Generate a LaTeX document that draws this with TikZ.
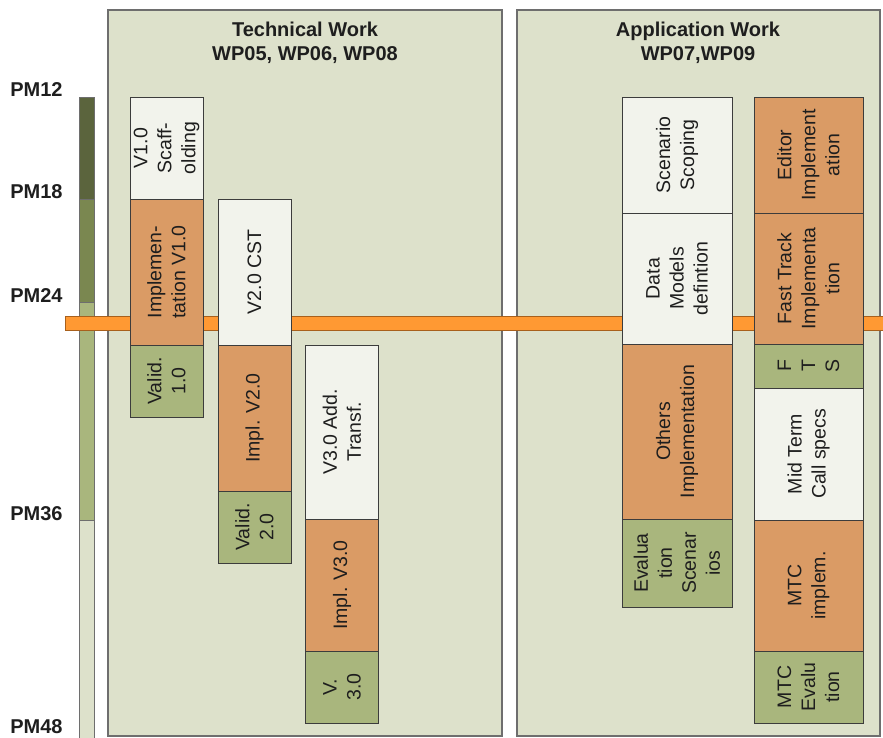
\documentclass[tikz,border=0pt]{standalone}
\usepackage{fontspec}
\setmainfont{Liberation Sans}
\definecolor{panelbg}{HTML}{DDE1CB}
\definecolor{panelline}{HTML}{6E6E6E}
\definecolor{boxline}{HTML}{3C3C3C}
\definecolor{wfill}{HTML}{F2F3EC}
\definecolor{ofill}{HTML}{DA9B65}
\definecolor{gfill}{HTML}{A9B67D}
\definecolor{obar}{HTML}{FF9933}
\definecolor{obarline}{HTML}{A8601C}
\definecolor{tdark}{HTML}{5B643D}
\definecolor{tmed}{HTML}{7A8750}
\definecolor{tlight}{HTML}{A9B67D}
\definecolor{tpale}{HTML}{DDE1CB}
\definecolor{txt}{HTML}{1E1E1E}
\tikzset{
  panel/.style={draw=panelline, fill=panelbg, line width=1.4pt},
  seg/.style={draw=panelline, line width=0.8pt},
  box/.style={draw=boxline, line width=0.9pt, rotate=90, inner sep=1pt,
    align=center, text=txt, font=\fontsize{19.5}{24}\selectfont},
  wbox/.style={box, fill=wfill},
  obox/.style={box, fill=ofill},
  gbox/.style={box, fill=gfill},
  pm/.style={anchor=base, font=\fontsize{20}{24}\selectfont\bfseries, text=txt, inner sep=0pt},
  ttl/.style={align=center, font=\fontsize{20}{24}\selectfont\bfseries, text=txt, inner sep=0pt, anchor=base}
}
\begin{document}
\begin{tikzpicture}[x=1pt,y=-1pt]
\useasboundingbox (0,0) rectangle (883,738);
% panels
\draw[panel] (108,10) rectangle (502,736);
\draw[panel] (517,10) rectangle (880,736);
\node[ttl] (t1) at (305,37) {Technical Work};
\node[ttl] (t1b) at (305,61) {WP05, WP06, WP08};
\node[ttl] (t2) at (698,37) {Application Work};
\node[ttl] (t2b) at (698,61) {WP07,WP09};
% timeline
\draw[seg, fill=tdark] (79,97) rectangle (94,199);
\draw[seg, fill=tmed] (79,199) rectangle (94,302);
\draw[seg, fill=tlight] (79,302) rectangle (94,520);
\draw[seg, fill=tpale] (79,520) rectangle (94,745);
\node[pm] (pm12) at (36.5,97) {PM12};
\node[pm] (pm18) at (36.5,199) {PM18};
\node[pm] (pm24) at (36.5,302) {PM24};
\node[pm] (pm36) at (36.5,520) {PM36};
\node[pm] (pm48) at (36.5,733.5) {PM48};
% orange milestone bar
\draw[draw=obarline, fill=obar, line width=0.9pt] (65,316) rectangle (890,330);
% column 1
\node[wbox, minimum width=102pt, minimum height=73pt] (a1) at (166.5,148) {V1.0\\Scaff-\\olding};
\node[obox, minimum width=146pt, minimum height=73pt] (a2) at (166.5,272) {Implemen-\\tation V1.0};
\node[gbox, minimum width=72pt, minimum height=73pt] (a3) at (166.5,381) {Valid.\\1.0};
% column 2
\node[wbox, minimum width=146pt, minimum height=73pt] (b1) at (254.5,272) {V2.0 CST};
\node[obox, minimum width=146pt, minimum height=73pt] (b2) at (254.5,418) {Impl. V2.0};
\node[gbox, minimum width=72pt, minimum height=73pt] (b3) at (254.5,527) {Valid.\\2.0};
% column 3
\node[wbox, minimum width=174pt, minimum height=73pt] (c1) at (342,432) {V3.0 Add.\\Transf.};
\node[obox, minimum width=132pt, minimum height=73pt] (c2) at (342,585) {Impl. V3.0};
\node[gbox, minimum width=72pt, minimum height=73pt] (c3) at (342,687) {V.\\3.0};
% column 4
\node[wbox, minimum width=116pt, minimum height=110pt] (d1) at (677,155) {Scenario\\Scoping};
\node[wbox, minimum width=131pt, minimum height=110pt] (d2) at (677,278.5) {Data\\Models\\defintion};
\node[obox, minimum width=175pt, minimum height=110pt] (d3) at (677,431.5) {Others\\Implementation};
\node[gbox, minimum width=88pt, minimum height=110pt] (d4) at (677,563) {Evalua\\tion\\Scenar\\ios};
% column 5
\node[obox, minimum width=116pt, minimum height=109pt] (e1) at (808.5,155) {Editor\\Implement\\ation};
\node[obox, minimum width=131pt, minimum height=109pt] (e2) at (808.5,278.5) {Fast Track\\Implementa\\tion};
\node[gbox, minimum width=44pt, minimum height=109pt] (e3) at (808.5,366) {F\\T\\S};
\node[wbox, minimum width=132pt, minimum height=109pt] (e4) at (808.5,454) {Mid Term\\Call specs};
\node[obox, minimum width=131pt, minimum height=109pt] (e5) at (808.5,585.5) {MTC\\implem.};
\node[gbox, minimum width=72pt, minimum height=109pt] (e6) at (808.5,687) {MTC\\Evalu\\tion};
\end{tikzpicture}
\end{document}
